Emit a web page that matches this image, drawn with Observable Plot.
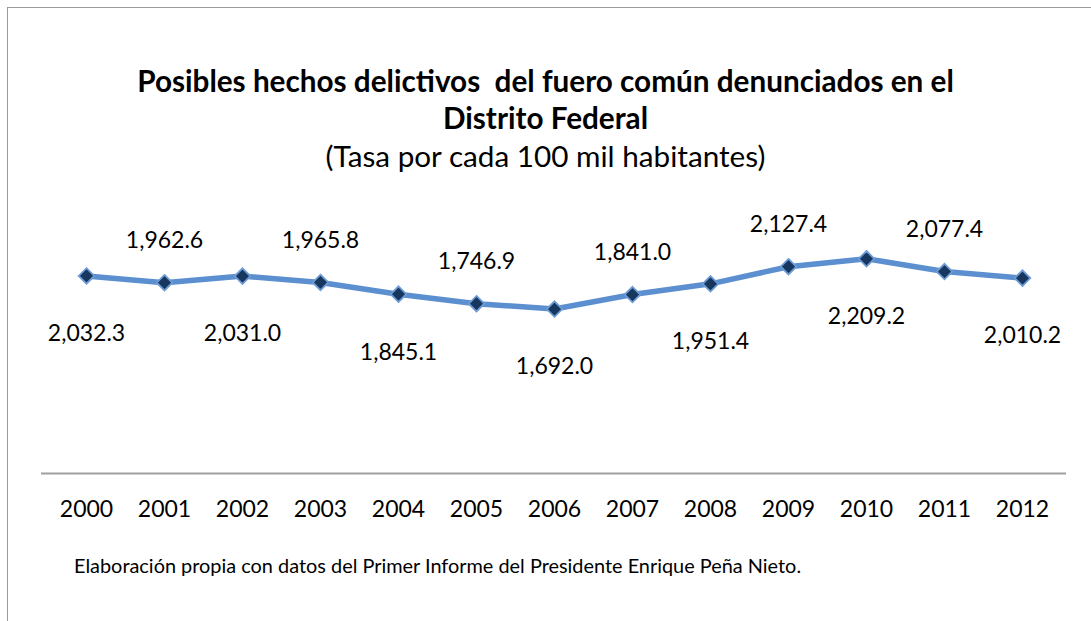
<!DOCTYPE html>
<html>
<head>
<meta charset="utf-8">
<script src="https://cdn.jsdelivr.net/npm/d3@7"></script>
<script src="https://cdn.jsdelivr.net/npm/@observablehq/plot@0.6"></script>
<style>
  html, body { margin: 0; padding: 0; background: #fff; }
  #wrap { position: relative; width: 1091px; height: 621px; overflow: hidden; font-family: Lato, "Open Sans", sans-serif; color: #000; }
  #frame { position: absolute; left: 7px; top: 7px; width: 1100px; height: 700px; border-left: 1.5px solid #9a9a9a; border-top: 1.5px solid #9a9a9a; }
  #chart { position: absolute; left: 0; top: 0; }
  .t { position: absolute; left: 0; width: 1091px; text-align: center; white-space: nowrap; line-height: normal; }
  #title1, #title2 { font-weight: bold; font-size: 29.7px; }
  #title1 { top: 63px; }
  #title2 { top: 100px; }
  #subtitle { top: 138px; font-size: 29.7px; }
  #caption { position: absolute; left: 74px; top: 553px; font-size: 19.9px; white-space: nowrap; line-height: normal; }
</style>
</head>
<body>
<div id="wrap">
  <div id="frame"></div>
  <div id="chart"></div>
  <div class="t" id="title1"></div>
  <div class="t" id="title2"></div>
  <div class="t" id="subtitle"></div>
  <div id="caption"></div>
</div>
<script>
const years = ["2000","2001","2002","2003","2004","2005","2006","2007","2008","2009","2010","2011","2012"];
const rates = [2032.3, 1962.6, 2031.0, 1965.8, 1845.1, 1746.9, 1692.0, 1841.0, 1951.4, 2127.4, 2209.2, 2077.4, 2010.2];
const titleLines = ["Posibles hechos delictivos\u00a0 del fuero común denunciados en el", "Distrito Federal"];
const subtitleText = "(Tasa por cada 100 mil habitantes)";
const captionText = "Elaboración propia con datos del Primer Informe del Presidente Enrique Peña Nieto.";

const data = years.map((y, i) => ({year: y, rate: rates[i], i}));
const fmt = d3.format(",.1f");

document.getElementById("title1").textContent = titleLines[0];
document.getElementById("title2").textContent = titleLines[1];
document.getElementById("subtitle").textContent = subtitleText;
document.getElementById("caption").textContent = captionText;

const chart = Plot.plot({
  width: 1091,
  height: 621,
  marginLeft: 41,
  marginRight: 25,
  marginTop: 230,
  marginBottom: 148,
  style: {fontFamily: "Lato, 'Open Sans', sans-serif", background: "transparent", color: "#000"},
  x: {type: "point", domain: years, range: [80.5, 1026.5], padding: 0, label: null, tickSize: 0, tickPadding: 27},
  y: {domain: [0, 2500], axis: null},
  marks: [
    Plot.ruleY([0], {stroke: "#a0a0a0", strokeWidth: 2}),
    Plot.line(data, {x: "year", y: "rate", stroke: "#5b8fcf", strokeWidth: 5.5, strokeLinejoin: "round"}),
    Plot.dot(data, {x: "year", y: "rate", symbol: "diamond2", r: 7, fill: "#17375e", stroke: "#6c9bd6", strokeWidth: 1.8}),
    Plot.text(data.filter(d => d.i % 2 === 0), {x: "year", y: "rate", text: d => fmt(d.rate), dy: 58, lineAnchor: "middle", fontSize: 23, fill: "#000"}),
    Plot.text(data.filter(d => d.i % 2 === 1), {x: "year", y: "rate", text: d => fmt(d.rate), dy: -42, lineAnchor: "middle", fontSize: 23, fill: "#000"})
  ]
});
chart.querySelectorAll("g[aria-label='x-axis tick label']").forEach(n => n.setAttribute("font-size", "23"));
document.getElementById("chart").appendChild(chart);
</script>
</body>
</html>
